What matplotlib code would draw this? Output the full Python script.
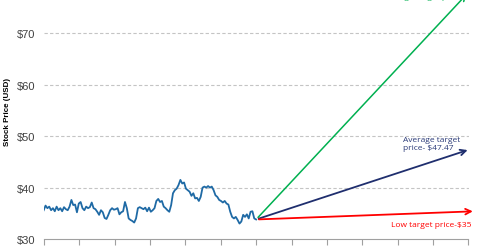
import numpy as np
import matplotlib
matplotlib.use("Agg")
import matplotlib.pyplot as plt

# === Data ===
stock_price = [
    35.6, 36.5, 36.0, 36.3, 35.6, 36.0, 35.4, 36.3, 35.6, 36.0, 35.4, 36.2,
    35.8, 35.6, 36.3, 37.6, 36.6, 36.7, 35.2, 36.9, 37.2, 36.0, 35.6, 36.3,
    36.0, 36.2, 37.1, 36.0, 35.8, 35.3, 34.7, 35.6, 35.2, 34.1, 33.9, 34.7,
    35.6, 36.0, 35.7, 35.8, 36.0, 34.8, 35.2, 35.4, 37.2, 36.0, 34.0, 33.7,
    33.5, 33.2, 34.0, 36.0, 36.2, 36.0, 35.8, 36.1, 35.4, 36.1, 35.3, 35.6,
    36.0, 37.4, 37.8, 37.2, 37.4, 36.3, 36.0, 35.6, 35.3, 36.6, 38.9, 39.5,
    39.8, 40.5, 41.5, 40.8, 41.0, 39.8, 39.5, 39.2, 38.4, 38.9, 37.9, 38.0,
    37.4, 38.2, 40.0, 40.2, 40.0, 40.3, 40.0, 40.2, 39.5, 38.5, 38.2, 37.6,
    37.4, 37.1, 37.4, 36.9, 36.7, 35.3, 34.3, 34.0, 34.3, 33.7, 33.0, 33.4,
    34.7, 34.3, 34.8, 34.0, 35.3, 35.4, 34.0, 33.8,
]
high_target = 78.0
avg_target = 47.47
low_target = 35.0
tick_labels = ["Jan-13", "Mar-13", "May-13", "Jul-13", "Sep-13", "Nov-13",
               "Jan-14", "Mar-14", "May-14", "Jul-14", "Sep-14", "Nov-14", "Jan-15"]

# === Figure ===
fig = plt.figure(figsize=(4.8, 2.51), dpi=100)
ax = fig.add_axes([43.7 / 480, 11 / 251, (468.5 - 43.7) / 480, 240 / 251])

x_stock = np.linspace(0, 6, len(stock_price))
ax.plot(x_stock, stock_price, color="#1F6AA5", lw=1.3, zorder=3)

start = (6, stock_price[-1])
ax.annotate("", xy=(12.0, high_target), xytext=start,
            arrowprops=dict(arrowstyle="->", color="#00B050", lw=1.1), annotation_clip=False)
ax.annotate("", xy=(12.05, avg_target), xytext=start,
            arrowprops=dict(arrowstyle="->", color="#1F2E6E", lw=1.3), annotation_clip=False)
ax.annotate("", xy=(12.2, low_target + 0.4), xytext=start,
            arrowprops=dict(arrowstyle="->", color="#FF0000", lw=1.3), annotation_clip=False)

ax.text(10.15, 48.6, "Average target\nprice- $47.47", color="#2A3A78", fontsize=6,
        family="Open Sans", va="center", ha="left", linespacing=1.35)
ax.text(9.8, 32.8, "Low target price-$35", color="#FF0000", fontsize=6,
        family="Open Sans", va="center", ha="left")
ax.text(9.95, 76.55, "High target price-$78", color="#00B050", fontsize=6,
        family="Open Sans", va="bottom", ha="left", clip_on=False)

# === Axes styling ===
ax.set_xlim(0, 12)
ax.set_ylim(30, 76.7)
ax.set_yticks([30, 40, 50, 60, 70])
ax.set_yticklabels(["$30", "$40", "$50", "$60", "$70"], fontsize=8,
                   color="#404040", family="Liberation Sans")
ax.set_xticks(range(13))
ax.set_xticklabels(tick_labels, rotation=45, ha="right", fontsize=7,
                   family="Liberation Sans", color="#404040")
ax.tick_params(axis="y", length=0, pad=6)
ax.tick_params(axis="x", length=4, color="#A0A0A0", pad=3)
for s in ["top", "right", "left"]:
    ax.spines[s].set_visible(False)
ax.spines["bottom"].set_color("#A0A0A0")
for v in [40, 50, 60, 70]:
    ax.axhline(v, color="#C4C4C4", lw=0.8, ls=(0, (3, 2)), zorder=1)
ax.set_ylabel("Stock Price (USD)", fontsize=5.8, fontweight="bold",
              family="Liberation Sans", labelpad=4)
ax.yaxis.set_label_coords(-0.078, 0.535)

fig.savefig("out.png", dpi=100)
